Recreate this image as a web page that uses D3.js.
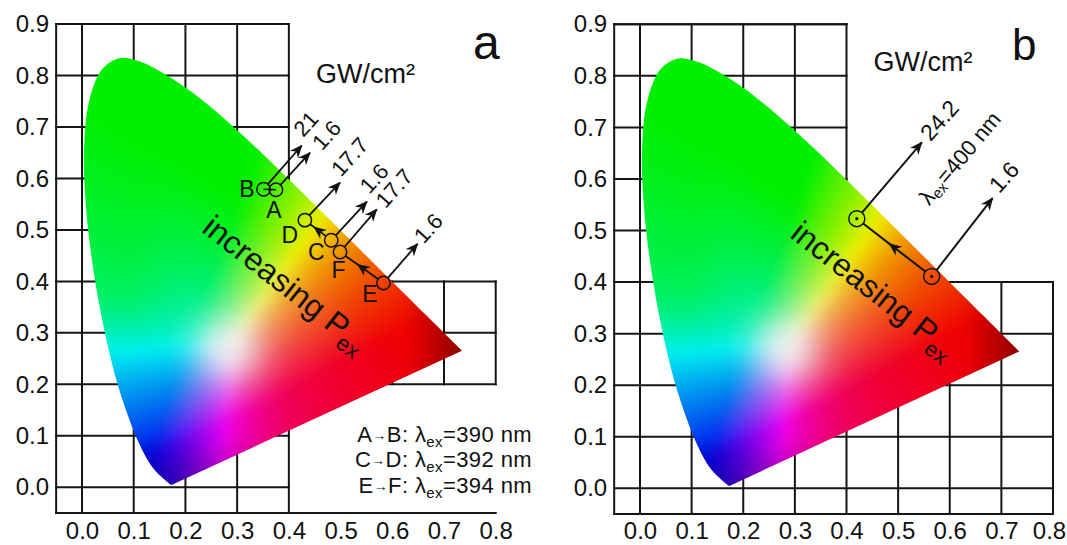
<!DOCTYPE html>
<html>
<head>
<meta charset="UTF-8">
<script src="https://d3js.org/d3.v7.min.js"></script>
<style>
  body { margin: 0; background: #fff; }
  svg text { font-family: "Liberation Sans", Arial, sans-serif; fill: #111; }
</style>
</head>
<body>
<div id="chart"></div>
<script>
// CIE 1931 spectral locus, 380 -> 700 nm
const locusX = [0.1741,0.1738,0.1733,0.1726,0.1714,0.1689,0.1644,0.1566,0.1510,0.1440,0.1355,0.1241,0.1096,0.0913,0.0687,0.0454,0.0235,0.0082,0.0039,0.0139,0.0389,0.0743,0.1142,0.1547,0.1929,0.2296,0.2658,0.3016,0.3373,0.3731,0.4087,0.4441,0.4788,0.5125,0.5448,0.5752,0.6029,0.6270,0.6482,0.6658,0.6915,0.7079,0.7190,0.7260,0.7347];
const locusY = [0.0050,0.0049,0.0048,0.0048,0.0051,0.0069,0.0109,0.0177,0.0227,0.0297,0.0399,0.0578,0.0868,0.1327,0.2007,0.2950,0.4127,0.5384,0.6548,0.7502,0.8120,0.8338,0.8262,0.8059,0.7816,0.7543,0.7243,0.6923,0.6589,0.6245,0.5896,0.5547,0.5202,0.4866,0.4544,0.4242,0.3965,0.3725,0.3514,0.3340,0.3083,0.2920,0.2809,0.2740,0.2653];

const xTicks = [0.0,0.1,0.2,0.3,0.4,0.5,0.6,0.7,0.8];
const yTicks = [0.0,0.1,0.2,0.3,0.4,0.5,0.6,0.7,0.8,0.9];

// panel a : measured points (B, A, D, C, F, E)
const letterA = ["B","A","D","C","F","E"];
const pointXA = [0.351,0.375,0.431,0.482,0.499,0.583];
const pointYA = [0.579,0.578,0.519,0.480,0.457,0.397];
const tipXA   = [0.425,0.441,0.499,0.551,0.570,0.649];
const tipYA   = [0.664,0.650,0.592,0.555,0.540,0.473];
const powerA  = ["21","1.6","17.7","1.6","17.7","1.6"];
const powerXA = [0.433,0.473,0.518,0.565,0.604,0.670];
const powerYA = [0.706,0.684,0.642,0.600,0.581,0.503];
const letterXA = [0.319,0.371,0.402,0.453,0.496,0.557];
const letterYA = [0.579,0.539,0.490,0.458,0.422,0.375];
// moves with increasing power: A->B, C->D, E->F (indices into the arrays above)
const moveFromA = [1,3,5];
const moveToA   = [0,2,4];
const legendFrom = ["A","C","E"];
const legendTo   = ["B","D","F"];
const legendNm   = [390,392,394];

// panel b : 1.6 and 24.2 GW/cm2
const pointXB = [0.565,0.420];
const pointYB = [0.411,0.523];
const tipXB   = [0.683,0.546];
const tipYB   = [0.563,0.671];
const powerB  = ["1.6","24.2"];
const powerXB = [0.705,0.580];
const powerYB = [0.604,0.714];

const W = 1067, H = 545;
const svg = d3.select("#chart").append("svg").attr("width", W).attr("height", H);

const defs = svg.append("defs");
defs.append("marker").attr("id","head")
  .attr("viewBox","-13 -7 15 14").attr("refX",0).attr("refY",0)
  .attr("markerWidth",15).attr("markerHeight",14)
  .attr("markerUnits","userSpaceOnUse").attr("orient","auto")
  .append("path").attr("d","M1,0 L-12,-5.5 L-8,0 L-12,5.5 Z").attr("fill","#111");

const panels = [
  { name:"a", x:d3.scaleLinear().domain([0,0.8]).range([82,495.7]),
    y:d3.scaleLinear().domain([0,0.9]).range([487.3,24]),
    wideRows:[-0.05,0.2,0.3,0.4], colSpan:[0.2,0.4] },
  { name:"b", x:d3.scaleLinear().domain([0,0.8]).range([640,1053]),
    y:d3.scaleLinear().domain([0,0.9]).range([488.3,24.3]),
    wideRows:[-0.05,0.0,0.1,0.2,0.3,0.4], colSpan:[-0.05,0.4] }
];

// xy chromaticity -> displayable sRGB (max normalised, saturation pushed)
const white = [0.29, 0.28];
const adaptX = 0.95047 / (white[0]/white[1]);
const adaptZ = 1.08883 / ((1-white[0]-white[1])/white[1]);
const clamp01 = v => Math.min(Math.max(v,0),1);
function gam(v){ return v <= 0.0031308 ? 12.92*v : 1.055*Math.pow(v,1/2.4)-0.055; }
function chroma(cx, cy){
  const yy = Math.max(cy, 0.002);
  const X = cx/yy*adaptX, Y = 1, Z = (1-cx-yy)/yy*adaptZ;
  let r =  3.2406*X - 1.5372*Y - 0.4986*Z;
  let g = -0.9689*X + 1.8758*Y + 0.0415*Z;
  let b =  0.0557*X - 0.2040*Y + 1.0570*Z;
  r = Math.max(r,0); g = Math.max(g,0); b = Math.max(b,0);
  const m = Math.max(r,g,b);
  r = Math.pow(r/m,1.8); g = Math.pow(g/m,1.8); b = Math.pow(b/m,1.8);
  // bluer foot, rosier purples, greener left side
  r *= 1 - 0.75*clamp01((0.14-cy)/0.14)*clamp01((0.27-cx)/0.1);
  b *= 1 - 0.45*clamp01((cx-0.27)/0.13);
  b *= 1 - 0.55*clamp01((cy-0.27)/0.1)*clamp01((0.2-cx)/0.1);
  // soft white spot
  const w = 0.75*Math.exp(-((cx-0.285)**2 + (cy-0.27)**2)/(2*0.035*0.035));
  r = r*(1-w)+w; g = g*(1-w)+w; b = b*(1-w)+w;
  // darker red tip and deep blue/violet base
  let f = 0.94;
  f *= 1 - 0.4*Math.pow(clamp01((cx-0.62)/0.11),1.3);
  f *= 1 - 0.28*clamp01((0.1-cy)/0.1);
  return [gam(r)*f, gam(g)*f, gam(b)*f];
}

const locus = locusX.map((d,i) => [d, locusY[i]]);

panels.forEach((p, k) => {
  const g = svg.append("g");
  const x = p.x, y = p.y;
  const x0 = x(-0.05), x1 = x(0.8), y0 = y(-0.05), y1 = y(0.9);

  // grid
  const seg = [];
  seg.push([-0.05,-0.05,-0.05,0.9]);
  [0,0.1,0.2,0.3,0.4].forEach(v => seg.push([v,-0.05,v,0.9]));
  [-0.05].concat(yTicks).forEach(v => seg.push([-0.05,v, p.wideRows.includes(v)?0.8:0.4, v]));
  seg.push([-0.05,0.9,0.4,0.9]);
  [0.5,0.6,0.7,0.8].forEach(v => seg.push([v,p.colSpan[0],v,p.colSpan[1]]));
  g.append("g").selectAll("line").data(seg).join("line")
    .attr("x1",d=>x(d[0])).attr("y1",d=>y(d[1])).attr("x2",d=>x(d[2])).attr("y2",d=>y(d[3]))
    .attr("stroke","#151515").attr("stroke-width",2).attr("stroke-linecap","square");

  // gamut: colour every pixel, then soften
  const cw = Math.ceil(x1-x0), ch = Math.ceil(y0-y1);
  const base = document.createElement("canvas");
  base.width = cw; base.height = ch;
  const bctx = base.getContext("2d");
  const img = bctx.createImageData(cw, ch);
  for (let j=0;j<ch;j++){
    const cy = y.invert(y1+j+0.5);
    for (let i=0;i<cw;i++){
      const cx = x.invert(x0+i+0.5);
      const c = chroma(cx, cy);
      const o = (j*cw+i)*4;
      img.data[o]=c[0]*255; img.data[o+1]=c[1]*255; img.data[o+2]=c[2]*255; img.data[o+3]=255;
    }
  }
  bctx.putImageData(img,0,0);
  const canvas = document.createElement("canvas");
  canvas.width = cw; canvas.height = ch;
  const ctx = canvas.getContext("2d");
  ctx.filter = "blur(6px)";
  ctx.drawImage(base,0,0);
  const line = d3.line().x(d=>x(d[0])).y(d=>y(d[1])).curve(d3.curveCatmullRom);
  defs.append("clipPath").attr("id","gamut"+k).append("path").attr("d", line(locus)+"Z");
  g.append("image").attr("href", canvas.toDataURL()).attr("x",x0).attr("y",y1)
    .attr("width",cw).attr("height",ch).attr("clip-path","url(#gamut"+k+")");

  // axes
  g.append("g").attr("transform",`translate(0,${y0})`)
    .call(d3.axisBottom(x).tickValues(xTicks).tickFormat(d3.format(".1f")).tickSize(0).tickPadding(539-y0-17))
    .call(a => a.select(".domain").remove())
    .attr("font-size",24).attr("font-family",null)
    .selectAll(".tick text").attr("x", d => (k === 1 && d === 0.8) ? -4 : 0);
  g.append("g").attr("transform",`translate(${x0},0)`)
    .call(d3.axisLeft(y).tickValues(yTicks).tickFormat(d3.format(".1f")).tickSize(0).tickPadding(7))
    .call(a => a.select(".domain").remove())
    .attr("font-size",24).attr("font-family",null);
  g.selectAll(".tick text").attr("fill","#111");

  p.g = g;
});

// ---- panel a annotations
{
  const {x, y, g} = panels[0];
  const pts = pointXA.map((d,i)=>({x:x(d), y:y(pointYA[i]), tx:x(tipXA[i]), ty:y(tipYA[i])}));
  const r = 6.7;
  moveFromA.forEach((f,i) => {
    const a = pts[f], b = pts[moveToA[i]];
    const dx=b.x-a.x, dy=b.y-a.y, L=Math.hypot(dx,dy);
    const ux=dx/L, uy=dy/L;
    const sx=a.x+ux*r, sy=a.y+uy*r, ex=b.x-ux*r, ey=b.y-uy*r;
    if (L > 2*r+4) g.append("path").attr("d",`M${sx},${sy}L${(sx+ex)/2+ux*5},${(sy+ey)/2+uy*5}L${ex},${ey}`)
      .attr("stroke","#111").attr("stroke-width",1.8).attr("fill","none").attr("marker-mid","url(#head)");
    else g.append("line").attr("x1",a.x).attr("y1",a.y).attr("x2",b.x).attr("y2",b.y).attr("stroke","#111").attr("stroke-width",1.5);
  });
  pts.forEach((d,i) => {
    const dx=d.tx-d.x, dy=d.ty-d.y, L=Math.hypot(dx,dy);
    g.append("line").attr("x1",d.x+dx/L*r).attr("y1",d.y+dy/L*r).attr("x2",d.tx).attr("y2",d.ty)
      .attr("stroke","#111").attr("stroke-width",1.8).attr("marker-end","url(#head)");
  });
  g.selectAll("circle.pt").data(pts).join("circle").attr("class","pt")
    .attr("cx",d=>d.x).attr("cy",d=>d.y).attr("r",r)
    .attr("fill","none").attr("stroke","#111").attr("stroke-width",1.5);
  g.selectAll("text.lt").data(letterA).join("text").attr("class","lt")
    .attr("x",(d,i)=>x(letterXA[i])).attr("y",(d,i)=>y(letterYA[i]))
    .attr("text-anchor","middle").attr("dominant-baseline","central")
    .attr("font-size",23).text(d=>d);
  g.selectAll("text.pw").data(powerA).join("text").attr("class","pw")
    .attr("transform",(d,i)=>`translate(${x(powerXA[i])},${y(powerYA[i])}) rotate(-48)`)
    .attr("text-anchor","middle").attr("dominant-baseline","central")
    .attr("font-size",22).text(d=>d);

  const lg = g.append("g").attr("font-size",22).attr("text-anchor","end").attr("letter-spacing",0.4);
  legendFrom.forEach((f,i) => {
    const t = lg.append("text").attr("x",532).attr("y",[441.7,466.7,492.5][i]);
    t.append("tspan").text(f);
    t.append("tspan").attr("font-size",14).attr("dy",-2).text("→");
    t.append("tspan").attr("dy",2).text(legendTo[i]+": λ");
    t.append("tspan").attr("font-size",15).attr("dy",5).text("ex");
    t.append("tspan").attr("dy",-5).text("="+legendNm[i]+" nm");
  });
}

// ---- panel b annotations
{
  const {x, y, g} = panels[1];
  const pts = pointXB.map((d,i)=>({x:x(d), y:y(pointYB[i]), tx:x(tipXB[i]), ty:y(tipYB[i])}));
  const r = 8;
  const a = pts[0], b = pts[1];
  const dx=b.x-a.x, dy=b.y-a.y, L=Math.hypot(dx,dy), ux=dx/L, uy=dy/L;
  g.append("path").attr("d",`M${a.x+ux*r},${a.y+uy*r}L${(a.x+b.x)/2+ux*6},${(a.y+b.y)/2+uy*6}L${b.x-ux*r},${b.y-uy*r}`)
    .attr("stroke","#111").attr("stroke-width",2).attr("fill","none").attr("marker-mid","url(#head)");
  pts.forEach(d => {
    const ddx=d.tx-d.x, ddy=d.ty-d.y, LL=Math.hypot(ddx,ddy);
    g.append("line").attr("x1",d.x+ddx/LL*r).attr("y1",d.y+ddy/LL*r).attr("x2",d.tx).attr("y2",d.ty)
      .attr("stroke","#111").attr("stroke-width",2).attr("marker-end","url(#head)");
  });
  g.selectAll("circle.pt").data(pts).join("circle").attr("class","pt")
    .attr("cx",d=>d.x).attr("cy",d=>d.y).attr("r",r)
    .attr("fill","none").attr("stroke","#111").attr("stroke-width",1.5);
  g.selectAll("circle.dot").data(pts).join("circle").attr("class","dot")
    .attr("cx",d=>d.x).attr("cy",d=>d.y).attr("r",1.6).attr("fill","#111");
  g.selectAll("text.pw").data(powerB).join("text").attr("class","pw")
    .attr("transform",(d,i)=>`translate(${x(powerXB[i])},${y(powerYB[i])}) rotate(-48)`)
    .attr("text-anchor","middle").attr("dominant-baseline","central")
    .attr("font-size",23).text(d=>d);
  const lt = g.append("text").attr("transform",`translate(${x(0.619)},${y(0.641)}) rotate(-50)`)
    .attr("text-anchor","middle").attr("dominant-baseline","central").attr("font-size",22);
  lt.append("tspan").text("λ");
  lt.append("tspan").attr("font-size",15).attr("dy",5).text("ex");
  lt.append("tspan").attr("dy",-5).text("=400 nm");
}

// common texts: power unit, "increasing P_ex", panel letters
const unitX = [316, 873.5], unitY = [83, 71];
const incX = [0.229, 0.288], incY = [0.498, 0.488];
const tagX = [473, 1012], tagY = [58.8, 60.2], tagSize = [48, 44];
panels.forEach((p,k) => {
  const u = p.g.append("text").attr("x",unitX[k]).attr("y",unitY[k])
    .attr("font-family","'Open Sans', sans-serif").attr("font-size",27);
  u.append("tspan").text("GW/cm²");
  const t = p.g.append("text")
    .attr("transform",`translate(${p.x(incX[k])},${p.y(incY[k])}) rotate(38)`)
    .attr("font-size",32);
  t.append("tspan").text("increasing P");
  t.append("tspan").attr("font-size",22).attr("dy",8).text("ex");
  p.g.append("text").attr("x",tagX[k]).attr("y",tagY[k])
    .attr("font-family","'Open Sans', sans-serif").attr("font-size",tagSize[k]).text(p.name);
});
</script>
</body>
</html>
